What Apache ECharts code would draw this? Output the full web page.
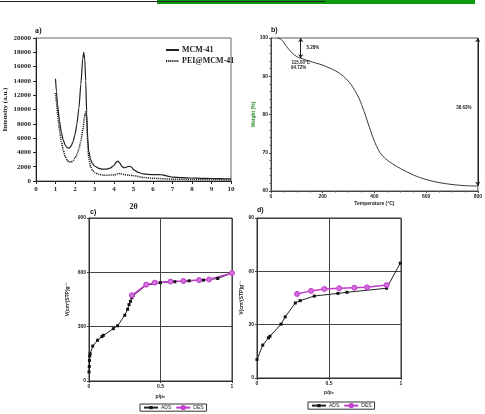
<!DOCTYPE html>
<html>
<head>
<meta charset="utf-8">
<script src="https://cdn.jsdelivr.net/npm/echarts@6/dist/echarts.min.js"></script>
<style>
  html, body { margin: 0; padding: 0; background: #fff; }
  #main { width: 485px; height: 414px; }
</style>
</head>
<body>
<div id="main"></div>
<script>
// a) XRD patterns
const mcmTheta = [1.0, 1.05, 1.1, 1.2, 1.3, 1.4, 1.5, 1.6, 1.7, 1.8, 1.9, 2.0, 2.1, 2.2, 2.3, 2.4, 2.45, 2.5, 2.55, 2.6, 2.65, 2.7, 2.8, 2.9, 3.0, 3.2, 3.4, 3.6, 3.8, 4.0, 4.1, 4.2, 4.3, 4.4, 4.5, 4.6, 4.7, 4.8, 4.9, 5.0, 5.2, 5.5, 6.0, 6.3, 6.5, 6.8, 7.0, 7.5, 8.0, 8.5, 9.0, 9.5, 10.0];
const mcmIntensity = [14300, 12500, 10800, 8500, 6800, 5700, 5000, 4650, 4600, 4900, 5500, 6500, 8000, 10200, 13500, 17200, 18000, 17000, 14000, 9500, 6000, 4200, 3000, 2400, 2100, 1800, 1650, 1650, 1800, 2200, 2600, 2800, 2500, 2050, 1850, 1900, 2000, 2050, 1950, 1600, 1250, 1000, 880, 900, 850, 650, 550, 480, 420, 380, 350, 320, 300];
const peiTheta = [1.0, 1.05, 1.1, 1.2, 1.3, 1.4, 1.5, 1.6, 1.7, 1.8, 1.9, 2.0, 2.1, 2.2, 2.3, 2.4, 2.5, 2.55, 2.6, 2.65, 2.7, 2.8, 2.9, 3.0, 3.2, 3.5, 4.0, 4.2, 4.3, 4.5, 4.8, 5.0, 5.5, 6.0, 7.0, 8.0, 9.0, 10.0];
const peiIntensity = [12300, 11000, 9500, 7200, 5500, 4300, 3400, 2900, 2650, 2650, 2850, 3200, 3700, 4500, 5600, 7200, 9200, 9700, 8500, 5500, 3300, 2000, 1500, 1200, 950, 800, 850, 1000, 1050, 900, 800, 750, 500, 380, 260, 220, 200, 180];

// b) TGA
const tgaTemp = [25, 40, 60, 80, 100, 115, 150, 200, 250, 280, 310, 340, 360, 380, 400, 420, 440, 470, 500, 550, 600, 650, 700, 750, 800];
const tgaWeight = [100, 99.6, 97.8, 96.2, 95.1, 94.72, 93.9, 92.9, 91.4, 90, 87.8, 84.3, 80.8, 76.8, 73.0, 70.2, 68.6, 67.1, 65.9, 64.2, 63.0, 62.2, 61.7, 61.4, 61.3];
const tgaStepTemp = 115;
const tgaStepWeight = 94.72;
const tgaFinalWeight = 61.37;

// c) isotherm MCM-41
const cAdsP = [0, 0.002, 0.003, 0.005, 0.008, 0.026, 0.06, 0.09, 0.1, 0.17, 0.2, 0.25, 0.27, 0.28, 0.29, 0.3, 0.31, 0.4, 0.5, 0.6, 0.7, 0.8, 0.9, 1.0];
const cAdsV = [50, 80, 113, 138, 150, 193, 225, 245, 252, 289, 305, 363, 396, 422, 440, 460, 472, 528, 543, 548, 553, 557, 566, 596];
const cDesP = [1.0, 0.84, 0.77, 0.66, 0.57, 0.46, 0.4, 0.3];
const cDesV = [596, 561, 557, 552, 549, 543, 532, 473];

// d) isotherm PEI@MCM-41
const dAdsP = [0, 0.04, 0.08, 0.09, 0.167, 0.196, 0.266, 0.3, 0.398, 0.562, 0.625, 0.9, 0.995];
const dAdsV = [10.4, 18.5, 22.6, 23.5, 30.3, 34.4, 42.2, 43.5, 46.1, 47.6, 48.2, 50.5, 64.6];
const dDesP = [0.9, 0.764, 0.676, 0.571, 0.468, 0.375, 0.278];
const dDesV = [52.3, 51.0, 50.8, 50.5, 50.1, 49.0, 47.3];

const zip = (xs, ys) => xs.map((x, i) => [x, ys[i]]);

const serif = 'Liberation Serif';
const sans = 'Liberation Sans';
const magenta = '#c03ccc';

const tinyAxis = (extra) => Object.assign({
  type: 'value',
  axisLine: { show: true, onZero: false, lineStyle: { color: '#333', width: 1 } },
  axisTick: { show: true, length: 2, lineStyle: { color: '#333' } },
  axisLabel: { fontFamily: sans, fontSize: 5, color: '#222', fontWeight: 'bold', margin: 3 },
  splitLine: { show: true, lineStyle: { color: '#444', width: 1 } },
  nameTextStyle: { fontFamily: sans, fontSize: 5, color: '#222', fontWeight: 'bold' }
}, extra);

const chart = echarts.init(document.getElementById('main'), null, { renderer: 'canvas' });

chart.setOption({
  animation: false,
  backgroundColor: '#fff',
  title: [
    { text: 'a)', left: 35, top: 27, padding: 0, textStyle: { fontFamily: serif, fontSize: 8, fontWeight: 'bold', color: '#111' } },
    { text: 'b)', left: 271, top: 27, padding: 0, textStyle: { fontFamily: sans, fontSize: 7, fontWeight: 'bold', color: '#111' } },
    { text: 'c)', left: 90, top: 209, padding: 0, textStyle: { fontFamily: sans, fontSize: 7, fontWeight: 'bold', color: '#111' } },
    { text: 'd)', left: 257, top: 207, padding: 0, textStyle: { fontFamily: sans, fontSize: 7, fontWeight: 'bold', color: '#111' } }
  ],
  legend: [
    {
      data: ['MCM-41', 'PEI@MCM-41'], orient: 'vertical', left: 165, top: 46, padding: 0,
      itemWidth: 13, itemHeight: 6, itemGap: 3,
      itemStyle: { opacity: 0 },
      textStyle: { fontFamily: serif, fontSize: 8, fontWeight: 'bold', color: '#222', padding: [0, 0, 0, -2] }
    },
    {
      data: ['ADS', 'DES'], left: 140, top: 404, padding: [1, 3],
      borderColor: '#333', borderWidth: 1, itemWidth: 14, itemHeight: 4, itemGap: 4,
      textStyle: { fontFamily: sans, fontSize: 5, color: '#222', padding: [0, 0, 0, -2] }
    },
    {
      data: ['ADS', 'DES'], left: 308, top: 402, padding: [1, 3],
      borderColor: '#333', borderWidth: 1, itemWidth: 14, itemHeight: 4, itemGap: 4,
      textStyle: { fontFamily: sans, fontSize: 5, color: '#222', padding: [0, 0, 0, -2] }
    }
  ],
  grid: [
    { left: 36, top: 38, width: 195, height: 143, show: true, borderColor: '#666', borderWidth: 1 },
    { left: 271, top: 38, width: 207, height: 153, show: true, borderColor: '#555', borderWidth: 1 },
    { left: 89, top: 218, width: 143, height: 163, show: true, borderColor: '#333', borderWidth: 1 },
    { left: 257, top: 218, width: 144, height: 160, show: true, borderColor: '#333', borderWidth: 1 }
  ],
  xAxis: [
    {
      gridIndex: 0, type: 'value', min: 0, max: 10, interval: 1,
      name: '2θ', nameLocation: 'middle', nameGap: 22,
      nameTextStyle: { fontFamily: serif, fontSize: 8, fontWeight: 'bold', color: '#222' },
      axisLine: { onZero: false, lineStyle: { color: '#222', width: 1 } },
      axisTick: { length: 3, lineStyle: { color: '#222' } },
      axisLabel: { fontFamily: serif, fontSize: 7, fontWeight: 'bold', color: '#222', margin: 5 },
      splitLine: { show: false }
    },
    {
      gridIndex: 1, type: 'value', min: 0, max: 800, interval: 200,
      name: 'Temperature (°C)', nameLocation: 'middle', nameGap: 10,
      nameTextStyle: { fontFamily: sans, fontSize: 5, fontWeight: 'bold', color: '#222' },
      axisLine: { onZero: false, lineStyle: { color: '#444', width: 1 } },
      axisTick: { length: 2, lineStyle: { color: '#444' } },
      minorTick: { show: true, splitNumber: 4, length: 1.5, lineStyle: { color: '#666' } },
      axisLabel: { fontFamily: sans, fontSize: 5, fontWeight: 'bold', color: '#222', margin: 3 },
      splitLine: { show: false }
    },
    tinyAxis({ gridIndex: 2, min: 0, max: 1, interval: 0.5, name: 'p/p₀', nameLocation: 'middle', nameGap: 13 }),
    tinyAxis({ gridIndex: 3, min: 0, max: 1, interval: 0.5, name: 'p/p₀', nameLocation: 'middle', nameGap: 12 })
  ],
  yAxis: [
    {
      gridIndex: 0, type: 'value', min: 0, max: 20000, interval: 2000,
      name: 'Intensity (a.u.)', nameLocation: 'middle', nameGap: 27,
      nameTextStyle: { fontFamily: serif, fontSize: 7, fontWeight: 'bold', color: '#222' },
      axisLine: { show: true, onZero: false, lineStyle: { color: '#222', width: 1 } },
      axisTick: { show: true, length: 3, lineStyle: { color: '#222' } },
      axisLabel: { fontFamily: serif, fontSize: 7, fontWeight: 'bold', color: '#222', margin: 5, formatter: (v) => String(v) },
      splitLine: { show: false }
    },
    {
      gridIndex: 1, type: 'value', min: 60, max: 100, interval: 10,
      name: 'Weight (%)', nameLocation: 'middle', nameGap: 15,
      nameTextStyle: { fontFamily: sans, fontSize: 5, fontWeight: 'bold', color: '#2a8a2a' },
      axisLine: { show: true, onZero: false, lineStyle: { color: '#444', width: 1 } },
      axisTick: { show: true, length: 2, lineStyle: { color: '#444' } },
      minorTick: { show: true, splitNumber: 5, length: 1.5, lineStyle: { color: '#666' } },
      axisLabel: { fontFamily: sans, fontSize: 5, fontWeight: 'bold', color: '#222', margin: 3 },
      splitLine: { show: false }
    },
    tinyAxis({ gridIndex: 2, min: 0, max: 900, interval: 300, name: 'V(cm³(STP)g⁻¹', nameLocation: 'middle', nameGap: 19 }),
    tinyAxis({ gridIndex: 3, min: 0, max: 90, interval: 30, name: 'V(cm³(STP)g⁻¹', nameLocation: 'middle', nameGap: 12 })
  ],
  series: [
    {
      name: 'MCM-41', type: 'line', xAxisIndex: 0, yAxisIndex: 0,
      data: zip(mcmTheta, mcmIntensity), symbol: 'none', smooth: 0.2, smoothMonotone: 'x',
      lineStyle: { color: '#222', width: 1.2 }, itemStyle: { color: '#222' }
    },
    {
      name: 'PEI@MCM-41', type: 'line', xAxisIndex: 0, yAxisIndex: 0,
      data: zip(peiTheta, peiIntensity), symbol: 'none', smooth: 0.2, smoothMonotone: 'x',
      lineStyle: { color: '#222', width: 1.5, type: [1.2, 0.9] }, itemStyle: { color: '#222' }
    },
    {
      name: 'TGA', type: 'line', xAxisIndex: 1, yAxisIndex: 1,
      data: zip(tgaTemp, tgaWeight), symbol: 'none', smooth: 0.3,
      lineStyle: { color: '#3a3a3a', width: 1 },
      markLine: {
        silent: true, symbol: ['arrow', 'arrow'], symbolSize: 4,
        lineStyle: { color: '#222', type: 'solid', width: 1 },
        label: { show: false },
        data: [
          [{ coord: [tgaStepTemp, 100] }, { coord: [tgaStepTemp, tgaStepWeight] }],
          [{ coord: [800, 100] }, { coord: [800, tgaFinalWeight] }]
        ]
      },
      markPoint: {
        silent: true, symbol: 'circle', symbolSize: 0,
        label: { show: true, fontFamily: sans, fontSize: 4.5, fontWeight: 'bold', color: '#222' },
        data: [
          { coord: [tgaStepTemp + 3, 97.4], label: { formatter: (100 - tgaStepWeight).toFixed(2) + '%', position: 'right' } },
          { coord: [tgaStepTemp, 93.6], label: { formatter: tgaStepTemp.toFixed(2) + '°C', position: 'inside' } },
          { coord: [tgaStepTemp - 8, 92.2], label: { formatter: tgaStepWeight.toFixed(2) + '%', position: 'inside' } },
          { coord: [795, 81.7], label: { formatter: (100 - tgaFinalWeight).toFixed(2) + '%', position: 'left' } }
        ]
      }
    },
    {
      name: 'ADS', type: 'line', xAxisIndex: 2, yAxisIndex: 2,
      data: zip(cAdsP, cAdsV), symbol: 'rect', symbolSize: 3,
      lineStyle: { color: '#222', width: 1 }, itemStyle: { color: '#111' }
    },
    {
      name: 'DES', type: 'line', xAxisIndex: 2, yAxisIndex: 2,
      data: zip(cDesP, cDesV), symbol: 'circle', symbolSize: 5,
      lineStyle: { color: magenta, width: 1.5 }, itemStyle: { color: '#d070dc', borderColor: magenta, borderWidth: 1 }
    },
    {
      name: 'ADS', type: 'line', xAxisIndex: 3, yAxisIndex: 3,
      data: zip(dAdsP, dAdsV), symbol: 'rect', symbolSize: 3,
      lineStyle: { color: '#222', width: 1 }, itemStyle: { color: '#111' }
    },
    {
      name: 'DES', type: 'line', xAxisIndex: 3, yAxisIndex: 3,
      data: zip(dDesP, dDesV), symbol: 'circle', symbolSize: 5,
      lineStyle: { color: magenta, width: 1.5 }, itemStyle: { color: '#d070dc', borderColor: magenta, borderWidth: 1 }
    }
  ],
  graphic: [
    { type: 'rect', shape: { x: 157, y: 0, width: 318, height: 4 }, style: { fill: '#0b9a0b' } },
    { type: 'line', shape: { x1: 0, y1: 1.5, x2: 325, y2: 1.5 }, style: { stroke: '#222', lineWidth: 1 } }
  ]
});
</script>
</body>
</html>
